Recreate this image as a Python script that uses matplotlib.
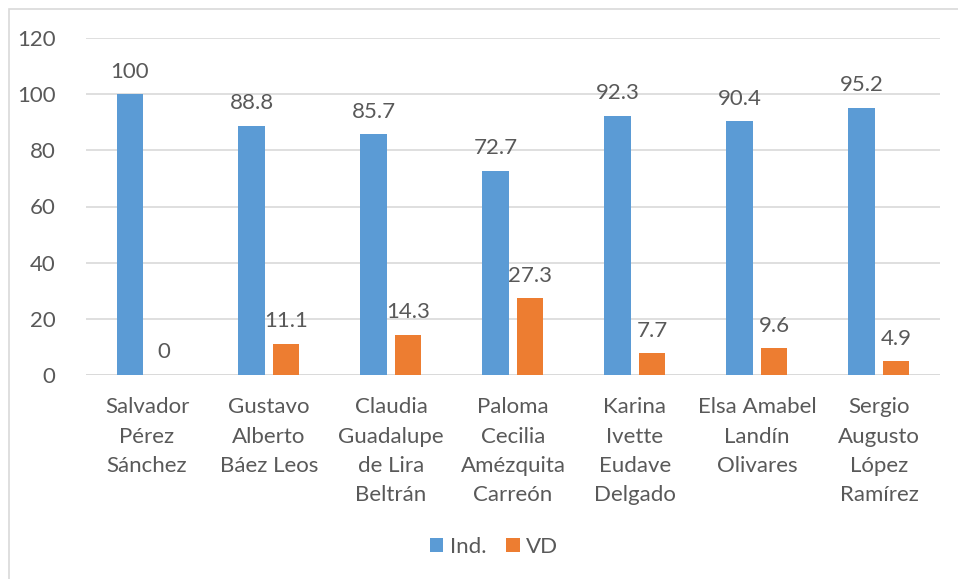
import matplotlib.pyplot as plt
import numpy as np
from matplotlib.patches import Rectangle

# datos
nombres = ['Salvador\nPérez\nSánchez', 'Gustavo\nAlberto\nBáez Leos',
           'Claudia\nGuadalupe\nde Lira\nBeltrán', 'Paloma\nCecilia\nAmézquita\nCarreón',
           'Karina\nIvette\nEudave\nDelgado', 'Elsa Amabel\nLandín\nOlivares',
           'Sergio\nAugusto\nLópez\nRamírez']
ind = [100, 88.8, 85.7, 72.7, 92.3, 90.4, 95.2]
vd = [0, 11.1, 14.3, 27.3, 7.7, 9.6, 4.9]

plt.rcParams['font.family'] = ['Lato', 'DejaVu Sans']
gris = '#595959'
fs = 16

fig = plt.figure(figsize=(9.58, 5.79), dpi=100)
ax = fig.add_axes([86/958, 1-375/579, (940-86)/958, (375-38)/579])

# marco del gráfico
fig.patches.append(Rectangle((9/958, -0.1), 1.2, 1 - 9/579 + 0.1,
                             transform=fig.transFigure, fill=False,
                             edgecolor='#d9d9d9', linewidth=1.2))

x = np.arange(len(nombres))
w = 0.22
b1 = ax.bar(x - 0.14, ind, w, color='#5B9BD5', label='Ind.', zorder=3)
b2 = ax.bar(x + 0.14, vd, w, color='#ED7D31', label='VD', zorder=3)

for bars in (b1, b2):
    for r in bars:
        h = r.get_height()
        ax.annotate(f'{h:g}', (r.get_x() + r.get_width()/2, h),
                    xytext=(0, 9), textcoords='offset points',
                    ha='center', va='bottom', fontsize=fs, color=gris)

ax.set_xlim(-0.5, len(nombres) - 0.5)
ax.set_ylim(0, 120)
ax.set_yticks(range(0, 121, 20))
ax.set_xticks(x)
ax.set_xticklabels(nombres, linespacing=1.58)
ax.tick_params(axis='both', length=0, colors=gris, labelsize=fs)
ax.tick_params(axis='x', pad=16)
ax.tick_params(axis='y', pad=22)
ax.grid(axis='y', color='#d9d9d9', linewidth=1.2, zorder=0)
for s in ax.spines.values():
    s.set_visible(False)
ax.axhline(0, color='#d9d9d9', linewidth=1.2, zorder=2)

fig.legend(loc='center', bbox_to_anchor=(494/958, 1-547/579), ncol=2, frameon=False,
           fontsize=fs, labelcolor=gris, handlelength=0.6, handleheight=0.6,
           handletextpad=0.3, columnspacing=0.9)

plt.savefig('out.png', dpi=100)
